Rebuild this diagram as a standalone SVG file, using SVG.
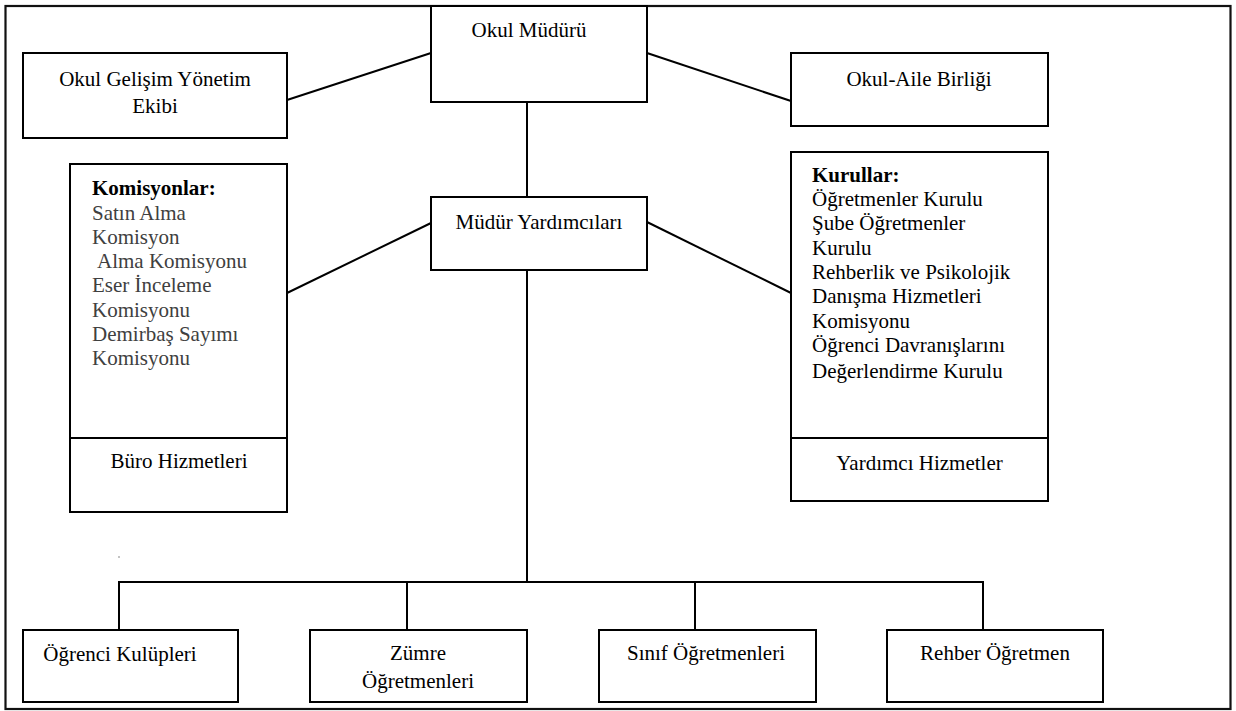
<svg xmlns="http://www.w3.org/2000/svg" width="1236" height="711" viewBox="0 0 1236 711">
<style>
.box{fill:#fff;stroke:#000;stroke-width:2}
.ln{stroke:#000;stroke-width:2;fill:none}
text{font-size:21px;fill:#000}
.c{text-anchor:middle}
.g{fill:#404040}
.b{font-weight:bold}
</style>
<rect x="0" y="0" width="1236" height="711" fill="#fff"/>
<rect id="frame" x="5.5" y="6" width="1225" height="703" fill="none" stroke="#111" stroke-width="2.2"/>
<g id="connectors">
<line class="ln" x1="431" y1="53" x2="287" y2="100"/>
<line class="ln" x1="647" y1="53" x2="791" y2="101"/>
<line class="ln" x1="527" y1="102" x2="527" y2="197"/>
<line class="ln" x1="431" y1="223" x2="287" y2="293"/>
<line class="ln" x1="647" y1="222" x2="791" y2="293"/>
<line class="ln" x1="527" y1="270" x2="527" y2="582"/>
<line class="ln" x1="118" y1="582" x2="984" y2="582"/>
<line class="ln" x1="119" y1="581" x2="119" y2="630"/>
<line class="ln" x1="407" y1="582" x2="407" y2="630"/>
<line class="ln" x1="695" y1="582" x2="695" y2="630"/>
<line class="ln" x1="983" y1="581" x2="983" y2="630"/>
</g>
<g font-family="Liberation Serif, Tinos, Times New Roman, DejaVu Serif, serif">
<g id="okul-muduru">
<rect class="box" x="431" y="6" width="216" height="96"/>
<text class="c" x="529" y="37">Okul Müdürü</text>
</g>
<g id="okul-gelisim">
<rect class="box" x="23" y="53" width="264" height="85"/>
<text class="c" x="155" y="86">Okul Gelişim Yönetim</text>
<text class="c" x="155" y="113">Ekibi</text>
</g>
<g id="okul-aile">
<rect class="box" x="791" y="53" width="257" height="73"/>
<text class="c" x="919" y="86">Okul-Aile Birliği</text>
</g>
<g id="mudur-yardimcilari">
<rect class="box" x="431" y="197" width="216" height="73"/>
<text class="c" x="539" y="229">Müdür Yardımcıları</text>
</g>
<g id="komisyonlar">
<rect class="box" x="70" y="164" width="217" height="348"/>
<line class="ln" x1="70" y1="438" x2="287" y2="438"/>
<text class="b" x="92" y="195">Komisyonlar:</text>
<text class="g" x="92" y="219.5">Satın Alma</text>
<text class="g" x="92" y="243.5">Komisyon</text>
<text class="g" x="97" y="268">Alma Komisyonu</text>
<text class="g" x="92" y="292">Eser İnceleme</text>
<text class="g" x="92" y="316.5">Komisyonu</text>
<text class="g" x="92" y="341">Demirbaş Sayımı</text>
<text class="g" x="92" y="365">Komisyonu</text>
<text class="c" x="179" y="468">Büro Hizmetleri</text>
</g>
<g id="kurullar">
<rect class="box" x="791" y="152" width="257" height="349"/>
<line class="ln" x1="791" y1="438" x2="1048" y2="438"/>
<text class="b" x="812" y="182">Kurullar:</text>
<text x="812" y="206">Öğretmenler Kurulu</text>
<text x="812" y="230">Şube Öğretmenler</text>
<text x="812" y="255">Kurulu</text>
<text x="812" y="279">Rehberlik ve Psikolojik</text>
<text x="812" y="303">Danışma Hizmetleri</text>
<text x="812" y="328">Komisyonu</text>
<text x="812" y="352">Öğrenci Davranışlarını</text>
<text x="812" y="378">Değerlendirme Kurulu</text>
<text class="c" x="919.5" y="470">Yardımcı Hizmetler</text>
</g>
<g id="ogrenci-kulupleri">
<rect class="box" x="23" y="630" width="215" height="72"/>
<text class="c" x="120" y="661">Öğrenci Kulüpleri</text>
</g>
<g id="zumre">
<rect class="box" x="310" y="630" width="217" height="72"/>
<text class="c" x="418" y="660">Zümre</text>
<text class="c" x="418" y="688">Öğretmenleri</text>
</g>
<g id="sinif">
<rect class="box" x="599" y="630" width="217" height="72"/>
<text class="c" x="706" y="660">Sınıf Öğretmenleri</text>
</g>
<g id="rehber">
<rect class="box" x="887" y="630" width="216" height="72"/>
<text class="c" x="995" y="660">Rehber Öğretmen</text>
</g>
</g>
<circle cx="119" cy="557" r="0.8" fill="#777"/>
</svg>
